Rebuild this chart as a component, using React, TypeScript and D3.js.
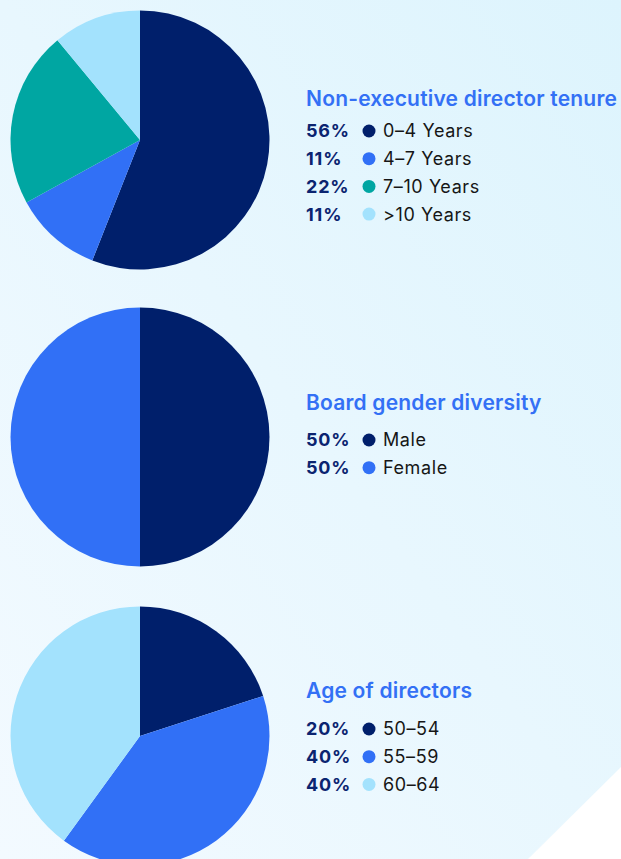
import React from "react";
import * as d3 from "d3";

const W = 621;
const H = 859;

const tenureLabels = ["0–4 Years", "4–7 Years", "7–10 Years", ">10 Years"];
const tenureValues = [56, 11, 22, 11];
const tenureColors = ["#001f6b", "#3170f6", "#00a6a2", "#a3e2fd"];

const genderLabels = ["Male", "Female"];
const genderValues = [50, 50];
const genderColors = ["#001f6b", "#3170f6"];

const ageLabels = ["50–54", "55–59", "60–64"];
const ageValues = [20, 40, 40];
const ageColors = ["#001f6b", "#3170f6", "#a3e2fd"];

const titles = ["Non-executive director tenure", "Board gender diversity", "Age of directors"];

const FONT = "Inter, 'Noto Sans', sans-serif";

type Block = {
  title: string;
  labels: string[];
  values: number[];
  colors: string[];
  cy: number;
  titleY: number;
  rowY: number;
};

const blocks: Block[] = [
  { title: titles[0], labels: tenureLabels, values: tenureValues, colors: tenureColors, cy: 140, titleY: 106, rowY: 131 },
  { title: titles[1], labels: genderLabels, values: genderValues, colors: genderColors, cy: 437, titleY: 410, rowY: 440 },
  { title: titles[2], labels: ageLabels, values: ageValues, colors: ageColors, cy: 736, titleY: 698, rowY: 729 },
];

function PieBlock({ b }: { b: Block }) {
  const pie = d3.pie<number>().sort(null).value((d) => d);
  const arcs = pie(b.values);
  const arc = d3.arc<d3.PieArcDatum<number>>().innerRadius(0).outerRadius(129.5);
  const rowStep = 27.7;
  return (
    <g>
      <g transform={`translate(140,${b.cy})`}>
        {arcs.map((a, i) => (
          <path key={i} d={arc(a) || ""} fill={b.colors[i]} />
        ))}
      </g>
      <text x={306} y={b.titleY} fontFamily={FONT} fontSize={21} fontWeight={600} letterSpacing={0.2} fill="#3370f5">
        {b.title}
      </text>
      {b.labels.map((l, i) => {
        const y = b.rowY + i * rowStep;
        return (
          <g key={i}>
            <text x={306} y={y} dy="0.36em" fontFamily={FONT} fontSize={18} fontWeight={700} letterSpacing={0.8} fill="#0b2470">
              {b.values[i]}%
            </text>
            <circle cx={369} cy={y} r={6.5} fill={b.colors[i]} />
            <text x={383} y={y} dy="0.36em" fontFamily={FONT} fontSize={18} fontWeight={400} letterSpacing={0.6} fill="#161616">
              {l}
            </text>
          </g>
        );
      })}
    </g>
  );
}

export default function App() {
  return (
    <svg
      width={W}
      height={H}
      viewBox={`0 0 ${W} ${H}`}
      style={{ position: "fixed", left: 0, top: 0, display: "block" }}
    >
      <defs>
        <linearGradient id="bg" x1="1" y1="0" x2="0" y2="1">
          <stop offset="0" stopColor="#ddf4fd" />
          <stop offset="1" stopColor="#f3faff" />
        </linearGradient>
      </defs>
      <rect x={0} y={0} width={W} height={H} fill="url(#bg)" />
      <polygon points={`${W},767 ${W},${H} 528,${H}`} fill="#ffffff" />
      {blocks.map((b, i) => (
        <PieBlock key={i} b={b} />
      ))}
    </svg>
  );
}
